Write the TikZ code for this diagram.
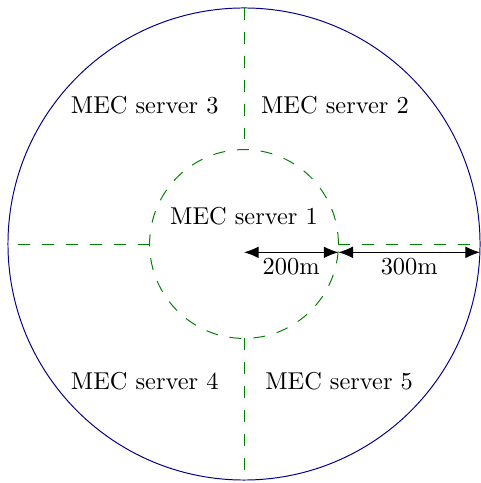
\documentclass[tikz,border=0pt]{standalone}
\usepackage{tikz}
\usetikzlibrary{arrows.meta}
\tikzset{
  cell/.style = {draw=blue!55!black, thin},
  border/.style = {draw=green!50!black, dash pattern=on 4.9pt off 4.9pt},
  srv/.style = {align=center, inner sep=1pt, text centered},
  dist/.style = {{Latex[length=6pt,width=4.8pt]}-{Latex[length=6pt,width=4.8pt]}}
}
\begin{document}
\begin{tikzpicture}
\useasboundingbox (-3.515,-3.443) rectangle (3.4,3.515);
% coverage areas
\draw [cell] (0,0) circle (3.4);
\draw [border] (0,0) circle (1.36);
\draw [border] (90:3.4) -- (90:1.36);
\draw [border] (270:1.36) -- (270:3.4);
\draw [border] (180:1.36) -- (180:3.4);
\draw [border] (0:1.36) -- (0:3.4);
% servers
\node [srv] (srv1) at (0,0.4) {MEC server 1};
\node [srv] (srv2) at (1.31,2.0) {MEC server 2};
\node [srv] (srv3) at (-1.43,2.0) {MEC server 3};
\node [srv] (srv4) at (-1.43,-1.98) {MEC server 4};
\node [srv] (srv5) at (1.37,-1.98) {MEC server 5};
% radii
\coordinate (ctr) at (0,-0.12);
\coordinate (inr) at (1.36,-0.12);
\coordinate (outr) at (3.4,-0.12);
\draw [dist] (ctr) -- node [below=-1pt] (d1) {200m} (inr);
\draw [dist] (inr) -- node [below=-1pt] (d2) {300m} (outr);
\end{tikzpicture}
\end{document}
